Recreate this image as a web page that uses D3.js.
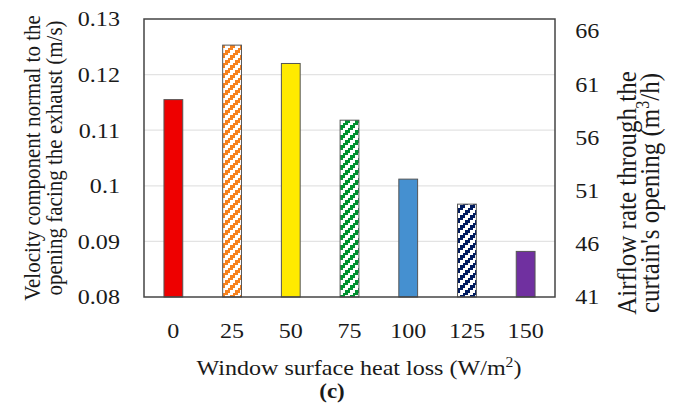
<!DOCTYPE html>
<html>
<head>
<meta charset="utf-8">
<script src="https://cdn.jsdelivr.net/npm/d3@7"></script>
<style>
  body { margin: 0; background: #fff; }
</style>
</head>
<body>
<script>
'use strict';

// heat loss categories (W/m2)
let categories = ["0", "25", "50", "75", "100", "125", "150"];
// velocity component normal to opening (m/s)
let velocity = [0.1155, 0.1253, 0.1220, 0.1118, 0.1012, 0.0967, 0.0882];
let barColors = ["#ee0000", "#f7821e", "#ffea00", "#00912f", "#4590d0", "#001b5f", "#7030a0"];
let patterned = [false, true, false, true, false, true, false];
let leftTicks = [0.08, 0.09, 0.1, 0.11, 0.12, 0.13];
let rightTicks = [41, 46, 51, 56, 61, 66];

let width = 682;
let height = 403;
let plot = { left: 144, right: 555, top: 19, bottom: 297 };
let serif = "'Liberation Serif'";
let stretch = 1.12; // the original picture is a bit wider than tall

let svg = d3.select('body')
  .append('svg')
  .attr('width', width)
  .attr('height', height);

let defs = svg.append('defs');

// stair-step diagonal stripes, like the office fill pattern
barColors.forEach(function(c, i) {
  if (!patterned[i]) return;
  let p = defs.append('pattern')
    .attr('id', 'pat' + i)
    .attr('patternUnits', 'userSpaceOnUse')
    .attr('width', 10)
    .attr('height', 10);
  p.append('rect').attr('width', 10).attr('height', 10).attr('fill', '#fff');
  for (let k = 0; k < 4; k++) {
    for (let off = -10; off <= 10; off += 10) {
      p.append('rect')
        .attr('x', k * 2.5)
        .attr('y', 7.5 - k * 2.5 + off - 2.5)
        .attr('width', 2.5)
        .attr('height', 5)
        .attr('fill', c)
        .attr('shape-rendering', 'crispEdges');
    }
  }
});

let x = d3.scaleBand()
  .domain(categories)
  .range([plot.left, plot.right])
  .paddingInner(0.68)
  .paddingOuter(0.34);

let y = d3.scaleLinear()
  .domain([0.08, 0.13])
  .range([plot.bottom, plot.top]);

// right axis labels sit a bit lower at the top in the original
let yRight = d3.scaleLinear()
  .domain([41, 66])
  .range([plot.bottom, plot.top + 12]);

// gridlines
svg.append('g')
  .selectAll('line')
  .data(leftTicks.slice(1, -1))
  .enter()
  .append('line')
  .attr('x1', plot.left)
  .attr('x2', plot.right)
  .attr('y1', d => y(d))
  .attr('y2', d => y(d))
  .attr('stroke', '#e3e3e3')
  .attr('stroke-width', 1.2);

// bars
svg.append('g')
  .selectAll('rect')
  .data(velocity)
  .enter()
  .append('rect')
  .attr('x', (d, i) => x(categories[i]))
  .attr('y', d => y(d))
  .attr('width', x.bandwidth())
  .attr('height', d => y(0.08) - y(d))
  .attr('fill', (d, i) => patterned[i] ? 'url(#pat' + i + ')' : barColors[i])
  .attr('stroke', '#555')
  .attr('stroke-width', 1);

// frame
svg.append('rect')
  .attr('x', plot.left)
  .attr('y', plot.top)
  .attr('width', plot.right - plot.left)
  .attr('height', plot.bottom - plot.top)
  .attr('fill', 'none')
  .attr('stroke', '#444')
  .attr('stroke-width', 1.5);

function styleAxis(g) {
  g.select('.domain').remove();
  g.selectAll('text')
    .style('font-family', serif)
    .style('font-size', '21.5px')
    .attr('fill', '#1a1a1a')
    .attr('transform', 'scale(' + stretch + ',1)');
}

// left axis
svg.append('g')
  .attr('transform', 'translate(' + plot.left + ',0)')
  .call(d3.axisLeft(y).tickValues(leftTicks).tickSize(0).tickPadding(21.5)
    .tickFormat(d => String(+d.toFixed(2))))
  .call(styleAxis);

// right axis
svg.append('g')
  .attr('transform', 'translate(' + plot.right + ',0)')
  .call(d3.axisRight(yRight).tickValues(rightTicks).tickSize(0).tickPadding(18))
  .call(styleAxis);

// bottom axis
svg.append('g')
  .attr('transform', 'translate(0,' + plot.bottom + ')')
  .call(d3.axisBottom(x).tickSize(0).tickPadding(26))
  .call(styleAxis);

// text placed at (tx, ty), stretched like the original, optionally rotated
function addText(tx, ty, rot) {
  return svg.append('g')
    .attr('transform', 'translate(' + tx + ',' + ty + ')scale(' + stretch + ',1)' + (rot ? 'rotate(' + rot + ')' : ''))
    .append('text')
    .style('font-family', serif)
    .attr('fill', '#1a1a1a')
    .attr('text-anchor', 'middle');
}

// x title
let xt = addText(359, 375).style('font-size', '21.5px');
xt.append('tspan').text('Window surface heat loss (W/m');
xt.append('tspan').attr('dy', -8).style('font-size', '14px').text('2');
xt.append('tspan').attr('dy', 8).text(')');

addText(332, 398)
  .style('font-size', '20.5px')
  .style('font-weight', 'bold')
  .text('(c)');

// left title
let lt = addText(40, 158, -90).style('font-size', '21px');
lt.append('tspan').attr('x', 0).attr('dy', 0).text('Velocity component normal to the');
lt.append('tspan').attr('x', 0).attr('dy', 19.5).text('opening facing the exhaust (m/s)');

// right title
let rt = addText(636, 193, -90).style('font-size', '25px');
rt.append('tspan').attr('x', 0).attr('dy', 0).text('Airflow rate through the');
rt.append('tspan').attr('x', 0).attr('dy', 20.5).text("curtain's opening (m");
rt.append('tspan').attr('dy', -9).style('font-size', '16px').text('3');
rt.append('tspan').attr('dy', 9).text('/h)');
</script>
</body>
</html>
